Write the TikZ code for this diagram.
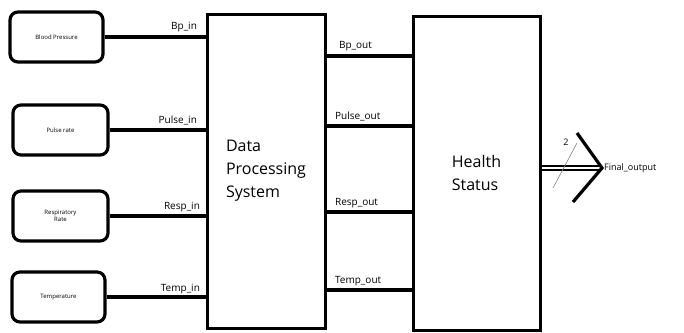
\documentclass[tikz,border=0pt]{standalone}
\usepackage{fontspec}
\setmainfont{Open Sans}
\usepackage{tikz}

\begin{document}
\begin{tikzpicture}[x=1pt, y=-1pt,
    inbox/.style={draw, rounded corners=8pt, line width=3.2pt, minimum width=93pt,
        minimum height=50pt, align=center, font=\fontsize{6}{7}\selectfont},
    block/.style={draw, line width=3pt, minimum height=314pt, align=left,
        font=\fontsize{16}{23}\selectfont},
    wire/.style={line width=3.2pt},
    port/.style={inner sep=1pt, font=\fontsize{10}{12}\selectfont}]

    \useasboundingbox (0,0) rectangle (684,332);

    % Sensor boxes
    \node[inbox] (bp) at (56.5,37) {Blood Pressure};
    \node[inbox, minimum width=95pt] (pulse) at (60.5,130) {Pulse rate};
    \node[inbox, minimum width=95pt] (resp) at (60.5,216) {Respiratory\\Rate};
    \node[inbox] (temp) at (58.5,297) {Temperature};

    % Main blocks
    \node[block, minimum width=118pt] (dps) at (266,171) {Data\\Processing\\System};
    \node[block, minimum width=127pt] (hs) at (476.5,173) {Health\\Status};

    % Inputs
    \draw[wire] (bp.east) -- (bp.east -| dps.west)
        node[port, anchor=south east, xshift=-6pt, yshift=2pt] {Bp\_in};
    \draw[wire] (pulse.east) -- (pulse.east -| dps.west)
        node[port, anchor=south east, xshift=-6pt, yshift=2pt] {Pulse\_in};
    \draw[wire] (resp.east) -- (resp.east -| dps.west)
        node[port, anchor=south east, xshift=-3pt, yshift=2pt] {Resp\_in};
    \draw[wire] (temp.east) -- (temp.east -| dps.west)
        node[port, anchor=south east, xshift=-3pt, yshift=1pt] {Temp\_in};

    % Outputs
    \coordinate (bpout) at (dps.east |- 0,56);
    \coordinate (pulseout) at (dps.east |- 0,126);
    \coordinate (respout) at (dps.east |- 0,212);
    \coordinate (tempout) at (dps.east |- 0,290);
    \draw[wire] (bpout) -- (bpout -| hs.west)
        node[port, pos=0, anchor=south west, xshift=10pt, yshift=2pt] {Bp\_out};
    \draw[wire] (pulseout) -- (pulseout -| hs.west)
        node[port, pos=0, anchor=south west, xshift=6pt, yshift=2pt] {Pulse\_out};
    \draw[wire] (respout) -- (respout -| hs.west)
        node[port, pos=0, anchor=south west, xshift=6pt, yshift=2pt] {Resp\_out};
    \draw[wire] (tempout) -- (tempout -| hs.west)
        node[port, pos=0, anchor=south west, xshift=6pt, yshift=2pt] {Temp\_out};

    % Final output
    \coordinate (hsout) at (hs.east |- 0,168);
    \coordinate (tip) at (602,168);
    \draw[line width=2pt, double, double distance=1.4pt] (hsout) -- ([xshift=-3pt]tip);
    \draw[line width=3.2pt] (577,133) -- (tip) -- (573,202);
    \draw[gray, line width=0.6pt] (553,188) -- (577,143);
    \node[port, font=\fontsize{9}{10}\selectfont] (bits) at (566,142) {2};
    \node[port, anchor=west, font=\fontsize{9}{11}\selectfont] (final) at ([xshift=1pt]tip) {Final\_output};
\end{tikzpicture}
\end{document}
